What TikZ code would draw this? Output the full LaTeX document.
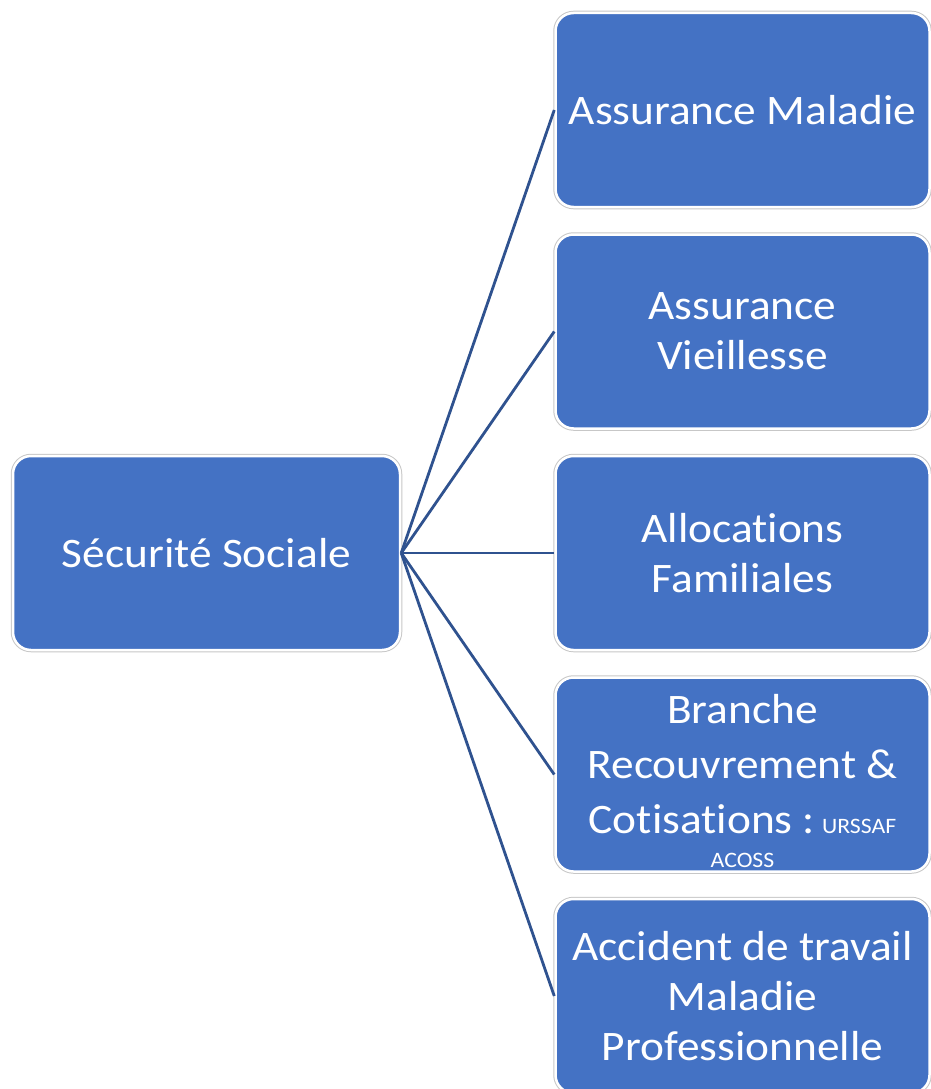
\documentclass[tikz,border=0pt]{standalone}
\usepackage{fontspec}
\setmainfont{Carlito}[FakeStretch=1.08, Ligatures=NoCommon]
\usetikzlibrary{positioning}
\definecolor{boxblue}{HTML}{4472C4}
\definecolor{linkblue}{HTML}{2F528F}
\tikzset{
    branch/.style = {rectangle, rounded corners=18pt, fill=boxblue, text=white,
        preaction={draw=black!22, line width=4.5pt},
        draw=white, line width=2.5pt,
        minimum height=194pt, align=center, inner sep=0pt,
        font=\fontsize{42}{50}\selectfont},
    root/.style = {branch, minimum width=387pt},
    leaf/.style = {branch, minimum width=374pt},
    link/.style = {draw=linkblue, line width=2.8pt}
}
\newcommand{\smalltxt}[1]{{\fontsize{22}{24}\selectfont #1}}
\begin{document}
\begin{tikzpicture}[x=1pt, y=1pt, node distance=25pt]
        \useasboundingbox (0,0) rectangle (930,-1089);
        \node [root] (secu) at (206.5,-553) {Sécurité Sociale};
        \node [leaf, right=153pt of secu] (alloc) {Allocations\\Familiales};
        \node [leaf, above=of alloc] (vieil) {Assurance\\Vieillesse};
        \node [leaf, above=of vieil] (maladie) {Assurance Maladie};
        \node [leaf, below=of alloc] (recouv) {\\[-8pt]Branche\\[5pt]Recouvrement \&\\[5pt]Cotisations :\,\smalltxt{URSSAF}\\[-16pt]\smalltxt{ACOSS}};
        \node [leaf, below=of recouv] (atmp) {Accident de travail\\Maladie\\Professionnelle};
        \foreach \b in {maladie,vieil,alloc,recouv,atmp}{
            \draw [link] (secu.east) -- (\b.west);
        }
\end{tikzpicture}
\end{document}
